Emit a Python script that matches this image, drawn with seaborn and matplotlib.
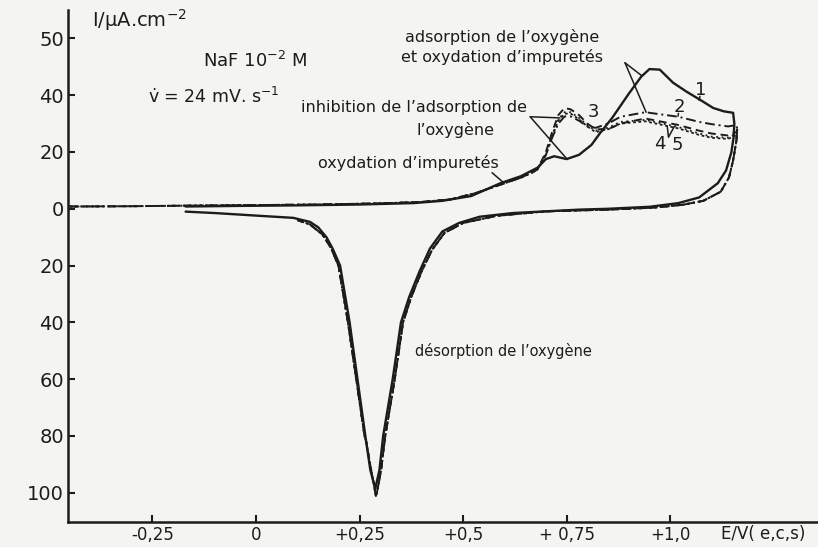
import numpy as np
import pandas as pd
import matplotlib
matplotlib.use("Agg")
import matplotlib.pyplot as plt
import seaborn as sns

# ---------------- data (E in V vs SCE, I in uA/cm2) ----------------
# curve 1 : full cycle (solid)
E1 = [-0.17, -0.05, 0.10, 0.25, 0.38, 0.45, 0.52, 0.59, 0.64, 0.68, 0.70, 0.72, 0.75,
      0.78, 0.81, 0.83, 0.86, 0.90, 0.93, 0.95, 0.975, 1.007, 1.04, 1.072, 1.104, 1.13,
      1.152, 1.155, 1.153, 1.148, 1.135, 1.115, 1.07, 1.02, 0.95, 0.85, 0.78, 0.62, 0.54,
      0.49, 0.45, 0.42, 0.395, 0.37, 0.35, 0.33, 0.307, 0.298, 0.288, 0.276, 0.264,
      0.245, 0.226, 0.203, 0.185, 0.17, 0.15, 0.13, 0.09, 0.0, -0.10, -0.17]
I1 = [0.8, 1.0, 1.2, 1.5, 2.0, 2.8, 4.5, 9.0, 11.5, 14.5, 17.5, 18.5, 17.5,
      19.0, 22.5, 26.5, 32.0, 40.5, 46.5, 49.2, 49.0, 44.4, 41.2, 38.4, 35.5, 34.3,
      33.8, 30.0, 25.0, 20.0, 13.5, 9.0, 4.0, 2.0, 0.7, 0.0, -0.3, -1.5, -2.8,
      -5.0, -8.0, -14.0, -22.0, -31.0, -40.0, -60.0, -80.0, -92.0, -98.5, -92.0, -80.0,
      -60.0, -40.0, -20.0, -14.0, -10.0, -6.5, -4.6, -3.2, -2.4, -1.5, -1.0]

# curves 2-5 : common start of the anodic sweep
E_start = [-0.45, -0.30, -0.17, 0.0, 0.15, 0.30, 0.40, 0.47, 0.53, 0.59, 0.64, 0.67]
I_start = [0.8, 0.9, 1.1, 1.3, 1.5, 1.9, 2.4, 3.3, 5.5, 8.5, 11.0, 13.0]

# curves 2-5 : oxidation region
E_ox = [0.68, 0.70, 0.715, 0.73, 0.745, 0.76, 0.78, 0.80, 0.82, 0.85, 0.88, 0.94,
        1.02, 1.07, 1.10, 1.14, 1.16]
I2_ox = [14.0, 19.0, 25.0, 30.0, 32.5, 32.5, 31.0, 29.0, 28.5, 30.0, 32.4, 34.0,
         32.4, 30.6, 29.8, 29.0, 29.5]
I3_ox = [14.0, 20.0, 27.0, 33.0, 35.5, 35.0, 33.0, 30.0, 28.0, 28.0, 30.0, 31.8,
         29.5, 27.5, 26.5, 25.8, 27.0]
I4_ox = [14.0, 19.5, 26.0, 31.5, 34.0, 34.0, 32.0, 29.5, 27.5, 28.5, 30.6, 31.3,
         28.8, 26.5, 25.4, 25.0, 26.5]
I5_ox = [14.0, 19.0, 25.5, 31.0, 33.5, 33.5, 31.5, 29.0, 27.0, 28.0, 30.0, 30.8,
         28.3, 26.0, 25.0, 24.6, 26.0]

# curves 2-5 : cathodic return
E_ret = [1.162, 1.16, 1.152, 1.142, 1.122, 1.08, 1.03, 0.96, 0.85, 0.70, 0.58, 0.50,
         0.455, 0.425, 0.40, 0.375, 0.355, 0.335, 0.312, 0.302, 0.290, 0.278, 0.266,
         0.262, 0.242, 0.222, 0.199, 0.18, 0.16, 0.13, 0.10]
I_ret = [28.0, 24.0, 17.0, 11.0, 6.0, 2.8, 1.4, 0.4, -0.3, -0.9, -2.5, -5.0,
         -8.5, -14.5, -22.0, -31.0, -40.0, -60.0, -80.0, -92.0, -101.5, -92.0, -82.0,
         -80.0, -60.0, -40.0, -20.0, -13.5, -9.0, -5.5, -4.0]

# axes ticks
x_ticks = [-0.25, 0.0, 0.25, 0.5, 0.75, 1.0]
x_labels = ["-0,25", "0", "+0,25", "+0,5", "+ 0,75", "+1,0"]
y_ticks = [60, 40, 20, 0, -20, -40, -60, -80, -100]
y_labels = ["50", "40", "20", "0", "20", "40", "60", "80", "100"]

INK = "#1c1c1c"
BG = "#f4f4f1"

sns.set_style("ticks")
plt.rcParams["font.family"] = ["DejaVu Sans"]

fig = plt.figure(figsize=(8.18, 5.47), dpi=100, facecolor=BG)
ax = fig.add_axes([68 / 818, 1 - 522 / 547, 1 - 68 / 818, (522 - 10) / 547])
ax.set_facecolor(BG)


def draw(E, I, **kw):
    df = pd.DataFrame({"E": E, "I": I})
    sns.lineplot(data=df, x="E", y="I", sort=False, estimator=None, ax=ax,
                 color=INK, legend=False, **kw)


def cyc(I_ox):
    return E_start + E_ox + E_ret, I_start + I_ox + I_ret


E2, I2 = cyc(I2_ox)
E3, I3 = cyc(I3_ox)
E4, I4 = cyc(I4_ox)
E5, I5 = cyc(I5_ox)

draw(E5, I5, lw=1.3, linestyle=(0, (1.5, 1.5)))
draw(E4, I4, lw=1.3, linestyle=(0, (1, 2)))
draw(E3, I3, lw=1.4, linestyle=(0, (4, 2.5)))
draw(E2, I2, lw=1.4, linestyle=(0, (5, 2, 1, 2)))
draw(E1, I1, lw=1.7, linestyle="-")

ax.set_xlim(-0.454, 1.357)
ax.set_ylim(-110.3, 70)
ax.set_xticks(x_ticks)
ax.set_xticklabels(x_labels)
ax.set_yticks(y_ticks)
ax.set_yticklabels(y_labels)
ax.set_xlabel("")
ax.set_ylabel("")
ax.tick_params(direction="in", length=5, width=1.5, colors=INK)
ax.tick_params(axis="y", labelsize=14, pad=3)
ax.tick_params(axis="x", labelsize=12, pad=3)
for s in ["top", "right"]:
    ax.spines[s].set_visible(False)
for s in ["left", "bottom"]:
    ax.spines[s].set_linewidth(1.8)
    ax.spines[s].set_color(INK)

fs = 11.5
# texts
ax.text(-0.396, 66.5, "I/\u03bcA.cm$^{-2}$", fontsize=14, color=INK, ha="left", va="center")
ax.text(-0.128, 52.0, "NaF 10$^{-2}$ M", fontsize=13, color=INK, ha="left", va="center")
ax.text(-0.262, 39.4, "v\u0307 = 24 mV. s$^{-1}$", fontsize=12.5, color=INK, ha="left", va="center")
ax.text(0.594, 60.6, "adsorption de l\u2019oxyg\u00e8ne", fontsize=fs, color=INK, ha="center", va="center")
ax.text(0.594, 53.5, "et oxydation d\u2019impuret\u00e9s", fontsize=fs, color=INK, ha="center", va="center")
ax.text(0.655, 35.6, "inhibition de l\u2019adsorption de", fontsize=fs, color=INK, ha="right", va="center")
ax.text(0.577, 27.8, "l\u2019oxyg\u00e8ne", fontsize=fs, color=INK, ha="right", va="center")
ax.text(0.150, 16.2, "oxydation d\u2019impuret\u00e9s", fontsize=fs, color=INK, ha="left", va="center")
ax.text(0.384, -50.0, "d\u00e9sorption de l\u2019oxyg\u00e8ne", fontsize=10.5, color=INK, ha="left", va="center")

# curve numbers
ax.text(1.074, 42.0, "1", fontsize=13, color=INK, ha="center", va="center")
ax.text(1.022, 36.0, "2", fontsize=13, color=INK, ha="center", va="center")
ax.text(0.815, 34.0, "3", fontsize=13, color=INK, ha="center", va="center")
ax.text(0.976, 22.8, "4", fontsize=13, color=INK, ha="center", va="center")
ax.text(1.017, 22.6, "5", fontsize=13, color=INK, ha="center", va="center")

# leader lines
lk = dict(color=INK, lw=1.1)
ax.plot([0.891, 0.932], [51.4, 46.8], **lk)
ax.plot([0.891, 0.942], [51.4, 34.0], **lk)
ax.plot([0.662, 0.734], [32.4, 32.0], **lk)
ax.plot([0.662, 0.751], [32.4, 17.5], **lk)
ax.plot([0.570, 0.597], [12.7, 9.3], **lk)
ax.plot([1.072, 1.070], [39.6, 38.2], **lk)
ax.plot([1.020, 1.019], [33.6, 32.6], **lk)
ax.plot([0.993, 0.996, 1.010], [29.0, 25.2, 29.0], **lk)

fig.text(763 / 818, 1 - 534 / 547, "E/V( e,c,s)", fontsize=12, color=INK,
         ha="center", va="center")

fig.savefig("out.png", dpi=100, facecolor=BG)
